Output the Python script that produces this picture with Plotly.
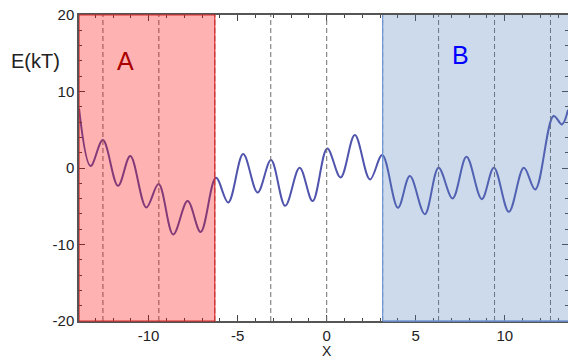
import math
import plotly.graph_objects as go

# Curve (turning points of the energy landscape)
x_vals = [-13.91, -13.26, -12.57, -11.72, -11.03, -10.13, -9.44, -8.62, -7.81, -7.08,
          -6.22, -5.53, -4.69, -3.88, -3.13, -2.33, -1.52, -0.79, 0.03, 0.78,
          1.58, 2.43, 3.12, 4.00, 4.67, 5.51, 6.28, 7.07, 7.85, 8.71,
          9.39, 10.23, 11.07, 11.71, 12.74, 13.21, 13.55]
e_vals = [7.8, 0.25, 3.65, -2.33, 1.56, -5.16, -2.10, -8.70, -4.33, -8.35,
          -1.28, -4.50, 1.82, -3.20, 1.03, -4.95, 0.03, -4.33, 2.56, -1.23,
          4.30, -1.50, 1.69, -5.20, -1.06, -6.03, 0.03, -3.98, 1.47, -4.07,
          0.03, -5.73, 0.03, -2.80, 6.80, 5.70, 7.60]

# Dashed guide lines at multiples of pi
guide_multiples = [-4, -3, -2, -1, 0, 1, 2, 3, 4]

# Regions
region_a = (-13.91, -2 * math.pi)
region_b = (math.pi, 13.55)

x_range = [-13.91, 13.55]
y_range = [-20, 20]
x_ticks = [-10, -5, 0, 5, 10]
y_ticks = [-20, -10, 0, 10, 20]

W, H = 568, 359
ml, mr, mt, mb = 79, 0, 15, 38
pw, ph = W - ml - mr, H - mt - mb

fig = go.Figure()
fig.add_trace(go.Scatter(x=x_vals, y=e_vals, mode="lines",
                         line=dict(color="rgb(80,84,172)", width=2, shape="spline", smoothing=1.0),
                         hoverinfo="skip", showlegend=False))

shapes = []
for k in guide_multiples:
    shapes.append(dict(type="line", xref="x", yref="paper", x0=k * math.pi, x1=k * math.pi,
                       y0=0, y1=1, line=dict(color="rgb(110,110,110)", width=1, dash="5px,3px"),
                       layer="above"))
shapes.append(dict(type="rect", xref="x", yref="paper", x0=region_a[0], x1=region_a[1], y0=0, y1=1,
                   fillcolor="rgb(255,0,0)", opacity=0.3, line=dict(width=0), layer="above"))
shapes.append(dict(type="rect", xref="x", yref="paper", x0=region_b[0], x1=region_b[1], y0=0, y1=1,
                   fillcolor="rgb(88,132,192)", opacity=0.3, line=dict(width=0), layer="above"))
shapes.append(dict(type="rect", xref="x", yref="paper", x0=region_a[0], x1=region_a[1], y0=0, y1=1,
                   line=dict(color="rgb(220,40,40)", width=1.2), layer="above"))
shapes.append(dict(type="line", xref="x", yref="paper", x0=region_b[0], x1=region_b[0], y0=0, y1=1,
                   line=dict(color="rgb(110,150,215)", width=1.2), layer="above"))
shapes.append(dict(type="line", xref="x", yref="paper", x0=region_b[0], x1=region_b[1], y0=0, y1=0,
                   line=dict(color="rgb(110,150,215)", width=1.5), layer="above"))

annotations = [
    dict(x=-11.3, y=14.0, xref="x", yref="y", text="A", showarrow=False,
         font=dict(family="Liberation Sans, Arial", size=25, color="rgb(170,0,0)")),
    dict(x=7.5, y=14.8, xref="x", yref="y", text="B", showarrow=False,
         font=dict(family="Liberation Sans, Arial", size=25, color="rgb(0,0,255)")),
    dict(x=(35 - ml) / pw, y=1 - (61 - mt) / ph, xref="paper", yref="paper", text="E(kT)",
         showarrow=False, xanchor="center", yanchor="middle",
         font=dict(family="Liberation Sans, Arial", size=20, color="#222")),
    dict(x=0, y=-(351 - (H - mb)) / ph, xref="x", yref="paper", text="X", showarrow=False,
         xanchor="center", yanchor="middle",
         font=dict(family="Liberation Sans, Arial", size=14, color="#222")),
]

fig.update_layout(
    width=W, height=H,
    margin=dict(l=ml, r=mr, t=mt, b=mb, autoexpand=False),
    paper_bgcolor="white", plot_bgcolor="white",
    shapes=shapes, annotations=annotations,
    font=dict(family="Liberation Sans, Arial", size=15, color="#222"),
)
fig.update_xaxes(range=x_range, tickvals=x_ticks, ticktext=[str(v) for v in x_ticks],
                 automargin=False, ticklabelstandoff=0,
                 ticks="inside", ticklen=6, tickcolor="#444", showgrid=False, zeroline=False,
                 showline=True, linecolor="#555", linewidth=1.5, mirror="allticks",
                 minor=dict(dtick=1, tick0=0, ticks="inside", ticklen=3, tickcolor="#444"))
fig.update_yaxes(range=y_range, tickvals=y_ticks, ticktext=[str(v) for v in y_ticks],
                 automargin=False,
                 ticks="inside", ticklen=6, tickcolor="#444", showgrid=False, zeroline=False,
                 showline=True, linecolor="#555", linewidth=1.5, mirror="allticks",
                 minor=dict(dtick=2, tick0=0, ticks="inside", ticklen=3, tickcolor="#444"))

fig.write_html("out.html", config={"displayModeBar": False},
               post_script="document.body.style.margin='0';document.body.style.overflow='hidden';")
